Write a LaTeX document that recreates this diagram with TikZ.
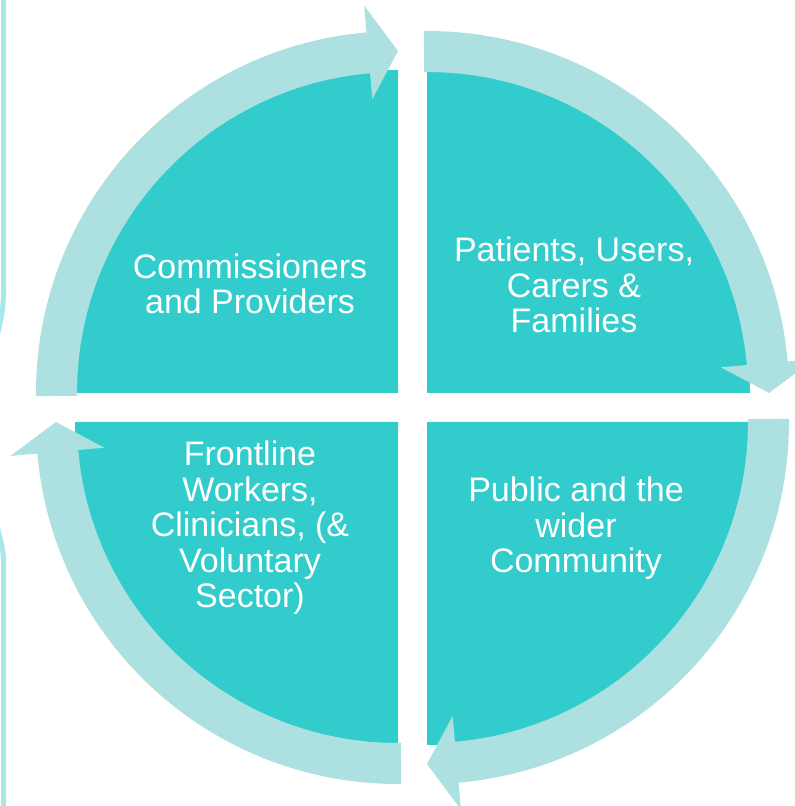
\documentclass[tikz,border=0pt]{standalone}
\usepackage{fontspec}
\setmainfont{Liberation Sans}
\definecolor{darkteal}{HTML}{33CCCC}
\definecolor{lightteal}{HTML}{ADE0E0}
\definecolor{linecyan}{HTML}{A8E8E8}
\newcommand\cycarrow[5]{%
  \fill[cyc,shift={(#1,#2)}] (#3:362) arc[start angle=#3,end angle=#4,radius=362]
    -- (#4:389) -- (#5:342) -- (#4:295) -- (#4:321)
    arc[start angle=#4,end angle=#3,radius=321] -- cycle;}
\begin{document}
\begin{tikzpicture}[x=1pt,y=1pt,
  quad/.style={fill=darkteal},
  cyc/.style={fill=lightteal},
  sideline/.style={draw=linecyan,line width=5pt},
  lbl/.style={text=white,align=center,font=\fontsize{34}{35.5}\selectfont,inner sep=0pt,anchor=base}]
\clip (0,0) rectangle (795,806);
% quadrants
\fill[quad] (398,413) -- ++(180:323) arc[start angle=180,end angle=90,radius=323] -- cycle;
\fill[quad] (427,413) -- ++(90:323) arc[start angle=90,end angle=0,radius=323] -- cycle;
\fill[quad] (427,384) -- ++(0:323) arc[start angle=0,end angle=-90,radius=323] -- cycle;
\fill[quad] (398,384) -- ++(-90:323) arc[start angle=-90,end angle=-180,radius=323] -- cycle;
% cycle arrows
\cycarrow{398}{413}{180.5}{95}{90}
\cycarrow{427}{413}{90.5}{5}{0}
\cycarrow{427}{384}{0.5}{-85}{-90}
\cycarrow{398}{384}{-89.5}{-175}{-180}
% side line
\draw[sideline] (3.5,806) -- (3.5,516) .. controls (3.5,496) and (1,486) .. (-3,470);
\draw[sideline] (-3,280) .. controls (1,264) and (3.5,256) .. (3.5,244) -- (3.5,0);
% labels (anchored at the baseline of the last line)
\node[lbl] (cp) at (250,492) {Commissioners\\and Providers};
\node[lbl] (pu) at (574,473) {Patients, Users,\\Carers \&\\Families};
\node[lbl] (pc) at (576,233) {Public and the\\wider\\Community};
\node[lbl] (fw) at (250,198) {Frontline\\Workers,\\Clinicians, (\&\\Voluntary\\Sector)};
\end{tikzpicture}
\end{document}
